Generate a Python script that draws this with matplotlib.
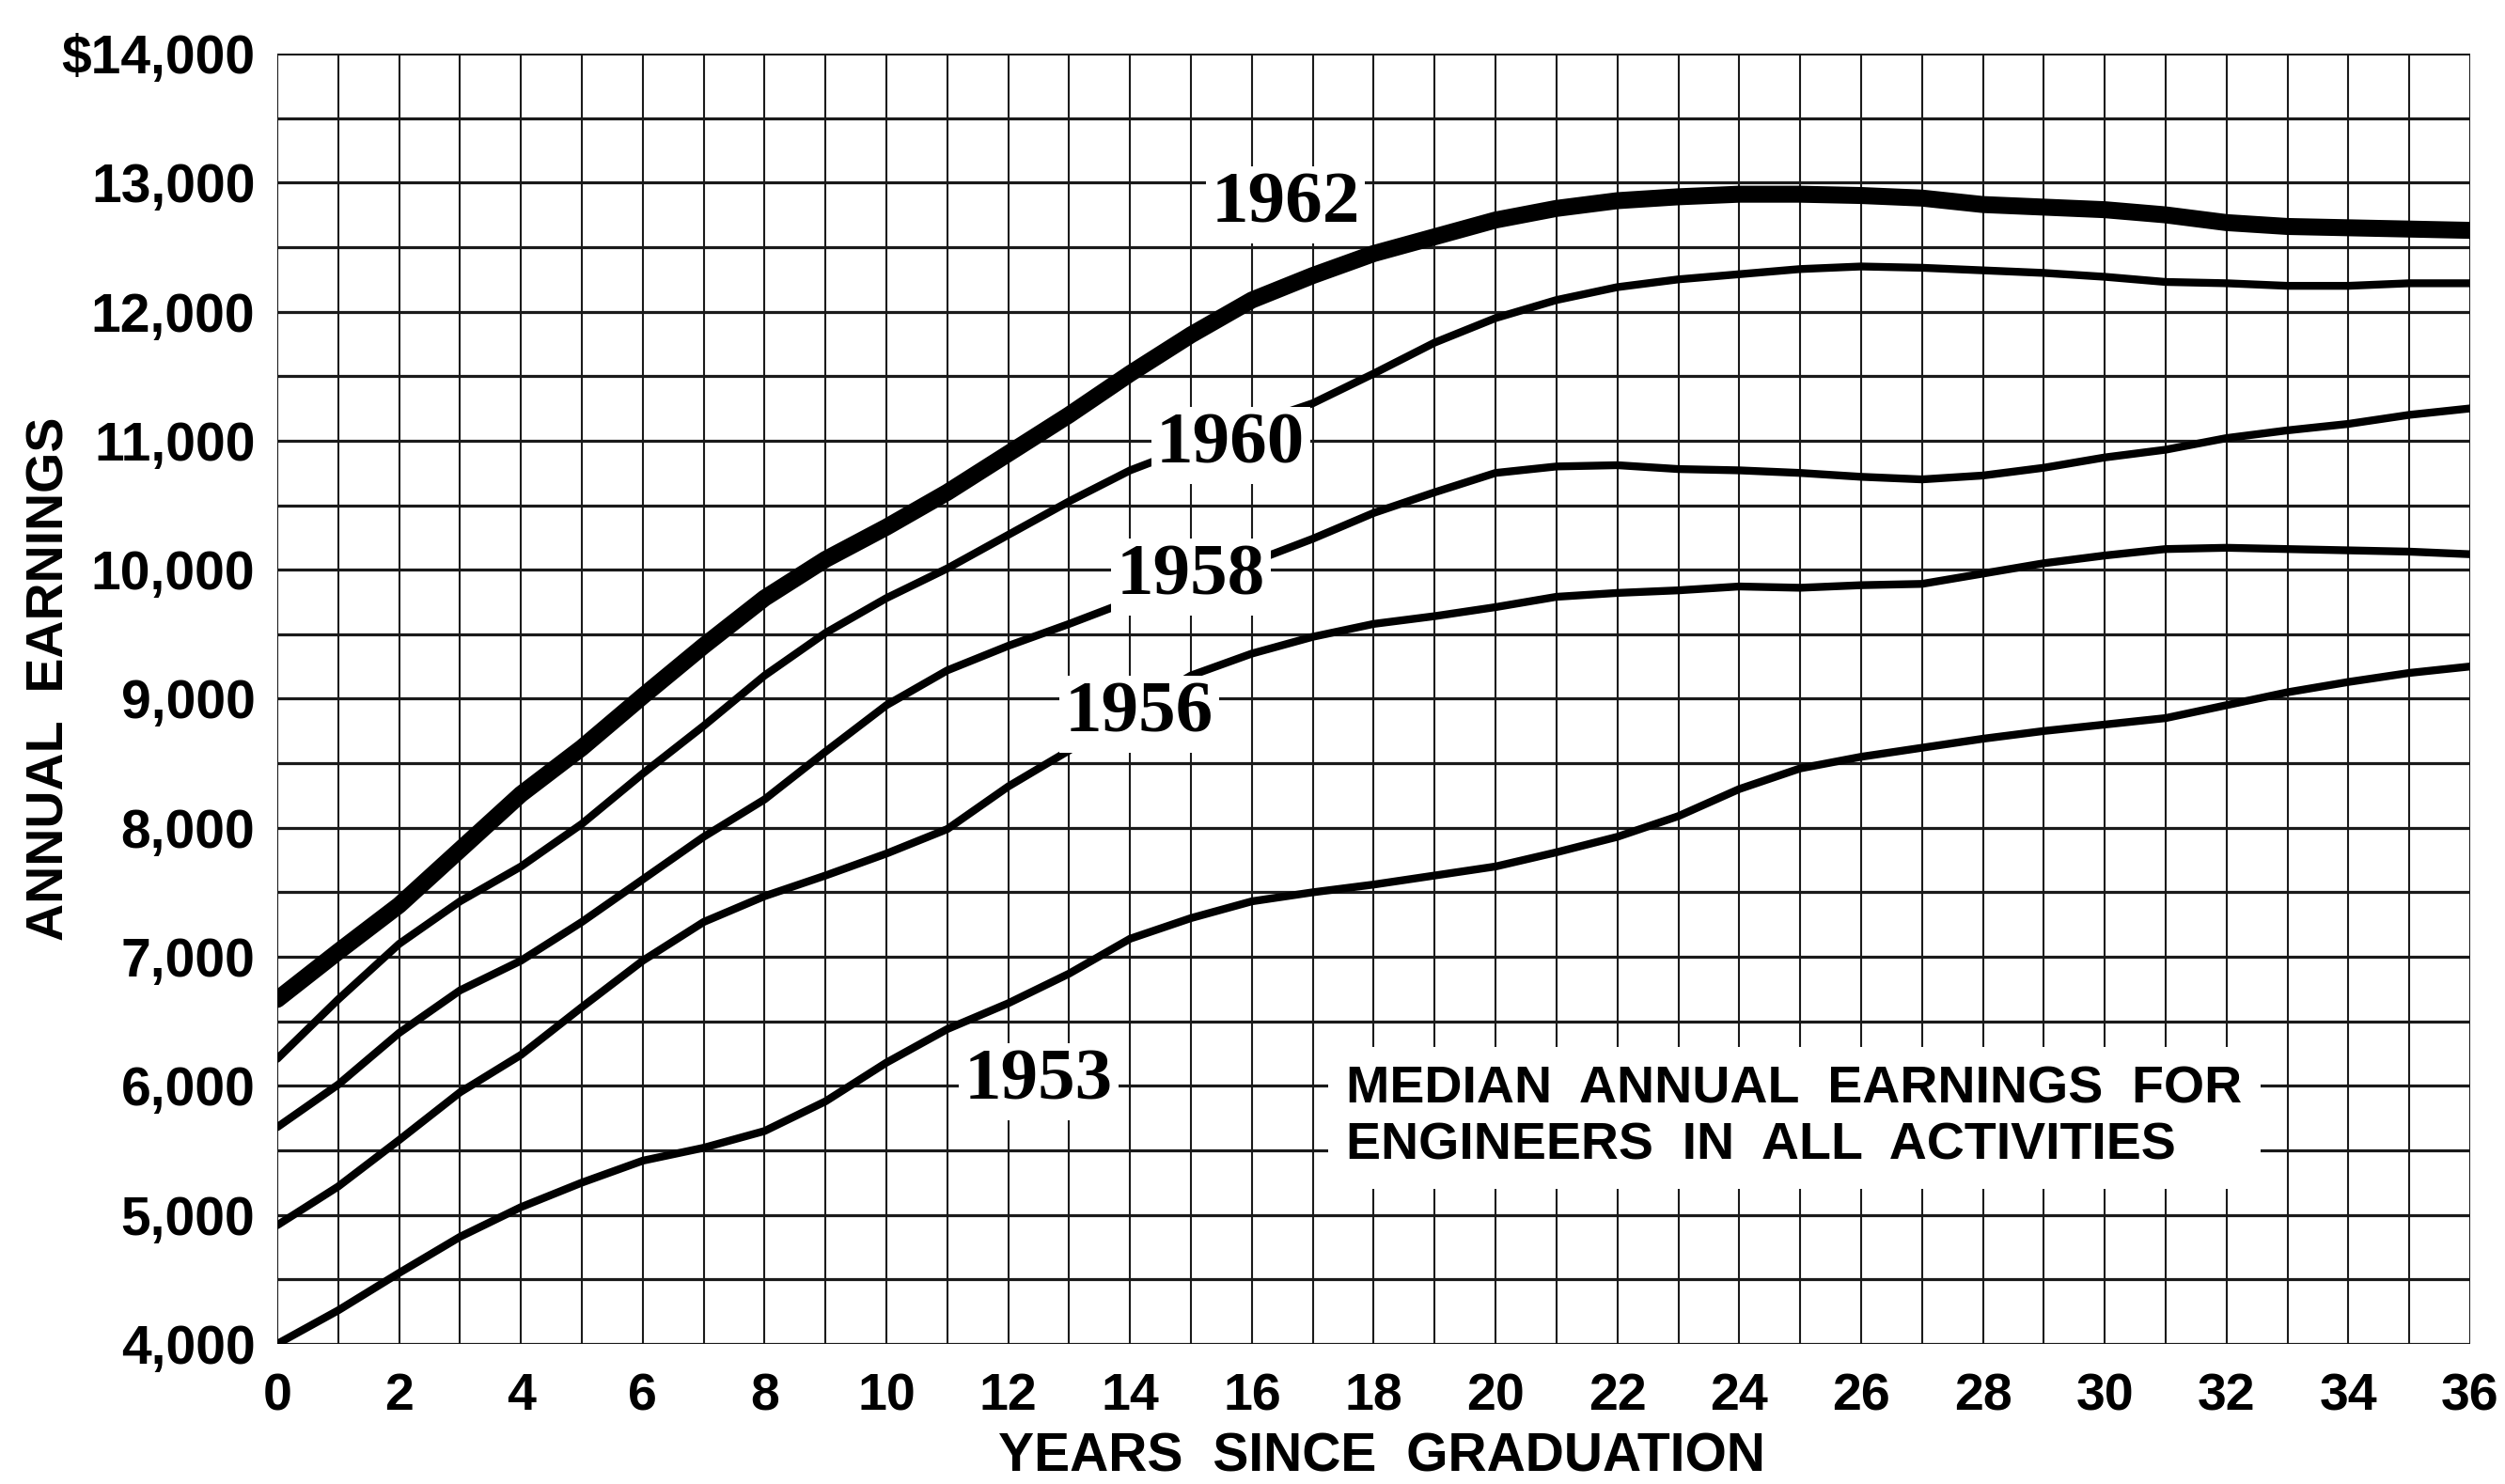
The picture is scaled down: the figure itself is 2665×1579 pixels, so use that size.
import matplotlib
matplotlib.use("Agg")
import matplotlib.pyplot as plt
import numpy as np

years = list(range(37))

earn_1962 = [6670, 7040, 7400, 7830, 8260, 8620, 9020, 9410, 9780, 10080,
             10330, 10600, 10900, 11200, 11520, 11820, 12090, 12280, 12450, 12580,
             12710, 12800, 12860, 12890, 12910, 12910, 12900, 12880, 12830, 12810,
             12790, 12750, 12690, 12660, 12650, 12640, 12630]
earn_1960 = [6210, 6670, 7100, 7430, 7700, 8030, 8420, 8790, 9180, 9510,
             9780, 10010, 10270, 10530, 10770, 10950, 11130, 11290, 11520, 11760,
             11950, 12090, 12190, 12250, 12290, 12330, 12350, 12340, 12320, 12300,
             12270, 12230, 12220, 12200, 12200, 12220, 12220]
earn_1958 = [5680, 6010, 6410, 6740, 6970, 7270, 7600, 7930, 8220, 8590,
             8950, 9220, 9410, 9580, 9760, 9900, 10060, 10240, 10440, 10600,
             10750, 10800, 10810, 10780, 10770, 10750, 10720, 10700, 10730, 10790,
             10870, 10930, 11020, 11080, 11130, 11200, 11250]
earn_1956 = [4920, 5220, 5580, 5950, 6240, 6610, 6970, 7270, 7470, 7630,
             7800, 7990, 8320, 8600, 8900, 9180, 9350, 9480, 9580, 9640,
             9710, 9790, 9820, 9840, 9870, 9860, 9880, 9890, 9970, 10050,
             10110, 10160, 10170, 10160, 10150, 10140, 10120]
earn_1953 = [4000, 4260, 4550, 4830, 5060, 5250, 5420, 5520, 5650, 5880,
             6180, 6440, 6640, 6870, 7140, 7300, 7430, 7500, 7560, 7630,
             7700, 7810, 7930, 8090, 8300, 8460, 8550, 8620, 8690, 8750,
             8800, 8850, 8950, 9050, 9130, 9200, 9250]

series = [("1962", earn_1962, 13), ("1960", earn_1960, 6), ("1958", earn_1958, 6),
          ("1956", earn_1956, 6), ("1953", earn_1953, 6)]
# label anchor (years, earnings)
label_pos = {"1962": (16.55, 12830), "1960": (15.65, 10960), "1958": (15.0, 9940),
             "1956": (14.15, 8880), "1953": (12.5, 6030)}

x_ticks = list(range(0, 37, 2))
y_ticks = list(range(4000, 14001, 1000))
y_labels = ["{:,}".format(v) for v in y_ticks]
y_labels[-1] = "$" + y_labels[-1]

sans = "Liberation Sans"
serif = "Liberation Serif"

fig = plt.figure(figsize=(26.65, 15.79), dpi=100)
ax = fig.add_axes([0.1107, 0.0944, 0.8754, 0.8695])

ax.set_xlim(0, 36)
ax.set_ylim(4000, 14000)
ax.set_xticks(x_ticks)
ax.set_xticks(range(0, 37), minor=True)
ax.set_yticks(y_ticks)
ax.set_yticks(range(4000, 14001, 500), minor=True)
ax.set_xticklabels([str(t) for t in x_ticks], fontsize=40, fontweight="bold", family=sans)
ax.set_yticklabels(y_labels, fontsize=41, fontweight="bold", family=sans)
ax.tick_params(axis="both", which="both", length=0)
ax.tick_params(axis="x", pad=22)
ax.tick_params(axis="y", pad=17)

ax.set_axisbelow(True)
ax.grid(axis="y", which="both", color="#1a1a1a", lw=2.3)
ax.grid(axis="x", which="both", color="#1a1a1a", lw=1.5)
for s in ax.spines.values():
    s.set_visible(False)

for name, vals, lw in series:
    ax.plot(years, vals, color="black", lw=lw, solid_capstyle="round",
            solid_joinstyle="round", zorder=2)
    lx, ly = label_pos[name]
    ax.text(lx, ly, name, fontsize=57, fontweight="bold", family=serif,
            ha="center", va="center", zorder=4,
            bbox=dict(facecolor="white", edgecolor="none", pad=4))

ax.text(17.55, 5750, "MEDIAN  ANNUAL  EARNINGS  FOR\nENGINEERS  IN  ALL  ACTIVITIES",
        fontsize=40, fontweight="bold", family=sans, ha="left", va="center",
        linespacing=1.2, zorder=4,
        bbox=dict(facecolor="white", edgecolor="none", pad=14))

fig.text(1470 / 2665, 1 - 1550 / 1579, "YEARS  SINCE  GRADUATION", fontsize=41,
         fontweight="bold", family=sans, ha="center", va="center")
fig.text(54 / 2665, 1 - 722 / 1579, "ANNUAL  EARNINGS", fontsize=40,
         fontweight="bold", family=sans, ha="center", va="center", rotation=90)

fig.savefig("out.png", dpi=100, facecolor="white")
